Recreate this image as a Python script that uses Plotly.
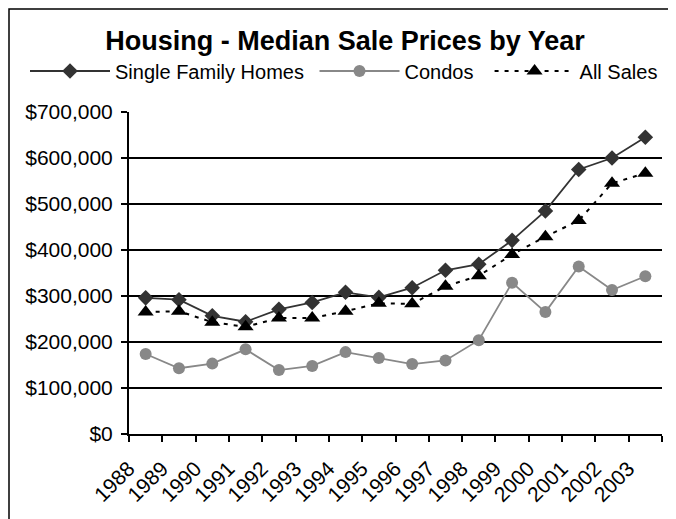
import plotly.graph_objects as go

years = [str(y) for y in range(1988, 2004)]
single_family = [296000, 292000, 257000, 244000, 271000, 286000, 308000, 297000,
                 318000, 356000, 369000, 421000, 485000, 575000, 600000, 645000]
condos = [174000, 143000, 153000, 184000, 139000, 148000, 178000, 165000,
          152000, 160000, 204000, 329000, 265000, 364000, 313000, 343000]
all_sales = [265000, 267000, 243000, 233000, 252000, 252000, 267000, 284000,
             283000, 321000, 344000, 390000, 429000, 464000, 545000, 567000]

FONT = "Liberation Sans, Arial, sans-serif"

# the page adds an 8px body offset; layout numbers below compensate for it
OFF = 8
L, T = 129 - OFF, 112 - OFF
R = 676 - (662 - OFF)
B = 519 - (434 - OFF)
PW, PH = 533, 322  # plot area in px

fig = go.Figure()
fig.add_trace(go.Scatter(
    x=years, y=single_family, name="Single Family Homes&nbsp;", mode="lines+markers",
    line=dict(color="#333333", width=1.8),
    marker=dict(symbol="diamond", size=12, color="#333333")))
fig.add_trace(go.Scatter(
    x=years, y=condos, name="Condos&nbsp;&nbsp;", mode="lines+markers",
    line=dict(color="#888888", width=1.8),
    marker=dict(symbol="circle", size=12, color="#888888")))
fig.add_trace(go.Scatter(
    x=years, y=all_sales, name="All Sales", mode="lines+markers",
    line=dict(color="#000000", width=2, dash="4px,6px"),
    marker=dict(symbol="triangle-up", size=14, color="#000000")))

fig.update_layout(
    width=676, height=519,
    margin=dict(l=L, r=R, t=T, b=B, autoexpand=False),
    paper_bgcolor="white", plot_bgcolor="white",
    font=dict(family=FONT, size=20, color="black"),
    title=dict(text="<b>Housing - Median Sale Prices by Year</b>",
               x=(345 - OFF) / 676, xanchor="center", xref="container",
               y=1 - (41 - OFF) / 519, yanchor="middle", yref="container",
               font=dict(family=FONT, size=27, color="black")),
    showlegend=True,
    legend=dict(orientation="h", x=(25 - 129) / PW, xanchor="left",
                y=(434 - 71) / PH, yanchor="middle",
                font=dict(family=FONT, size=20, color="black"),
                itemwidth=80, bgcolor="rgba(0,0,0,0)", traceorder="normal"),
    xaxis=dict(type="category", range=[-0.5, 15.5], showgrid=False,
               showline=True, linecolor="black", linewidth=2,
               ticks="outside", tickson="boundaries", ticklen=6,
               tickcolor="black", tickwidth=2,
               tickangle=-45, ticklabelshift=-17, ticklabelstandoff=12,
               automargin=False,
               tickfont=dict(family=FONT, size=21, color="black")),
    yaxis=dict(range=[0, 700000], tickvals=[0, 100000, 200000, 300000, 400000,
                                            500000, 600000, 700000],
               tickformat="$,.0f", showgrid=True, gridcolor="black", gridwidth=2,
               showline=True, linecolor="black", linewidth=2,
               ticks="outside", ticklen=6, tickcolor="black", tickwidth=2,
               ticklabelstandoff=4,
               zeroline=False, automargin=False,
               tickfont=dict(family=FONT, size=21, color="black")),
)

# outer chart border
fig.add_shape(type="rect", xref="paper", yref="paper",
              x0=(9 - 129) / PW, x1=(672 - 129) / PW,
              y0=(434 - 530) / PH, y1=(434 - 9) / PH,
              line=dict(color="black", width=1.5), fillcolor="rgba(0,0,0,0)")

# partially visible source note at the top
fig.add_annotation(text="Source: Multiple Sources, etc.", xref="paper", yref="paper",
                   x=(0 - 129) / PW, xanchor="left",
                   y=(434 + 6) / PH, yanchor="middle", showarrow=False,
                   font=dict(family=FONT, size=16, color="#888888"))

fig.write_html("out.html")
